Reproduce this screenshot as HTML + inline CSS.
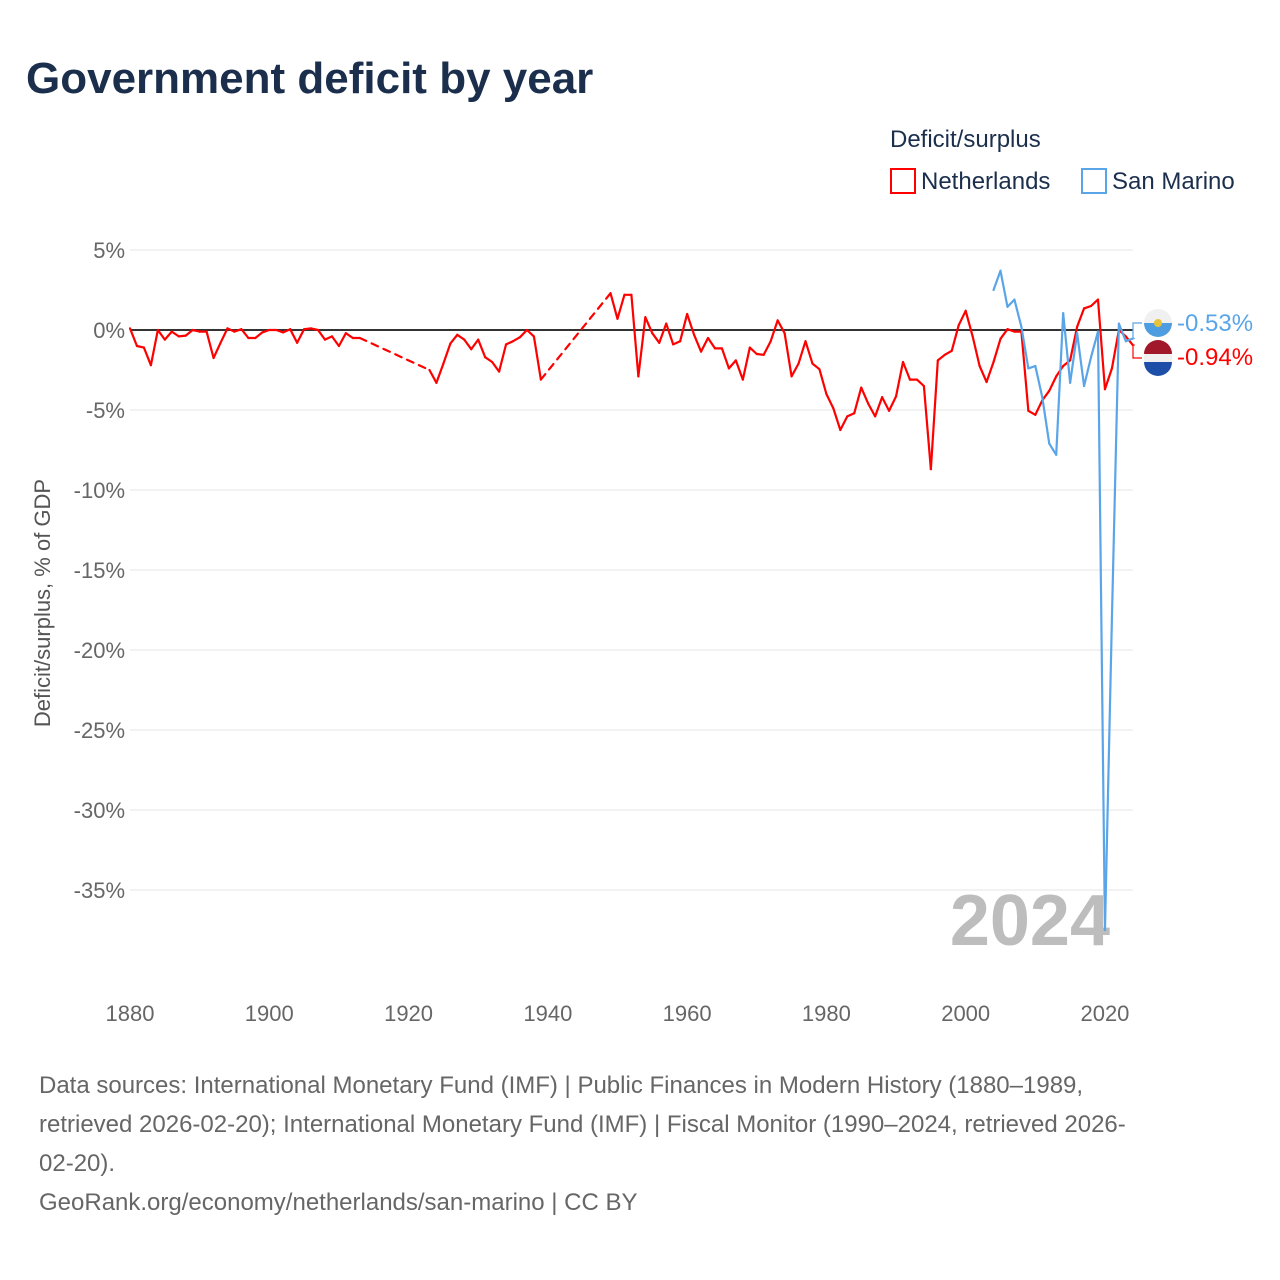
<!DOCTYPE html>
<html><head><meta charset="utf-8"><style>
body{margin:0;background:#fff;font-family:"Liberation Sans",sans-serif;}
#wrap{position:relative;width:1280px;height:1280px;overflow:hidden}
</style></head><body>
<div id="wrap">
<svg id="chart" width="1280" height="1280" style="position:absolute;left:0;top:0">
<text x="26" y="93" font-size="44" font-weight="bold" fill="#1b2f4d">Government deficit by year</text>
<text x="890" y="147" font-size="24" fill="#1b2f4d">Deficit/surplus</text>
<g><rect x="891" y="169" width="24" height="24" fill="none" stroke="#ff0000" stroke-width="2"/><text x="921" y="189" font-size="24" fill="#1b2f4d">Netherlands</text></g>
<g><rect x="1082" y="169" width="24" height="24" fill="none" stroke="#5aa5e8" stroke-width="2"/><text x="1112" y="189" font-size="24" fill="#1b2f4d">San Marino</text></g>
<text transform="translate(50,603) rotate(-90)" text-anchor="middle" font-size="22" fill="#555">Deficit/surplus, % of GDP</text>
<g id="grid"></g><g id="xt"></g>
<text x="1110" y="945" text-anchor="end" font-size="72" font-weight="bold" fill="#bdbdbd">2024</text>
<g id="series"></g>
<g><circle cx="1158" cy="323" r="14" fill="#f0f0f0"/><path d="M1144,323 a14,14 0 0,0 28,0 z" fill="#4d9de0"/><circle cx="1158" cy="323" r="4" fill="#e8c23a"/></g>
<g><circle cx="1158" cy="358" r="14" fill="#f0f0f0"/><path d="M1144,358 a14,14 0 0,1 28,0 z" transform="translate(0,-4)" fill="#a0182a"/><path d="M1144,358 a14,14 0 0,0 28,0 z" transform="translate(0,4)" fill="#1e4fa8"/></g>
<text x="1177" y="331" font-size="24" fill="#5aa5e8">-0.53%</text>
<text x="1177" y="365" font-size="24" fill="#ff0000">-0.94%</text>
<text font-size="24" fill="#666"><tspan x="39" y="1093">Data sources: International Monetary Fund (IMF) | Public Finances in Modern History (1880–1989,</tspan><tspan x="39" y="1132">retrieved 2026-02-20); International Monetary Fund (IMF) | Fiscal Monitor (1990–2024, retrieved 2026-</tspan><tspan x="39" y="1171">02-20).</tspan><tspan x="39" y="1210">GeoRank.org/economy/netherlands/san-marino | CC BY</tspan></text>
</svg>
</div>
<script>
const yTicks=[5,0,-5,-10,-15,-20,-25,-30,-35];
const xTicks=[1880,1900,1920,1940,1960,1980,2000,2020];
const nlYears=[1880,1881,1882,1883,1884,1885,1886,1887,1888,1889,1890,1891,1892,1893,1894,1895,1896,1897,1898,1899,1900,1901,1902,1903,1904,1905,1906,1907,1908,1909,1910,1911,1912,1913,1923,1924,1925,1926,1927,1928,1929,1930,1931,1932,1933,1934,1935,1936,1937,1938,1939,1949,1950,1951,1952,1953,1954,1955,1956,1957,1958,1959,1960,1961,1962,1963,1964,1965,1966,1967,1968,1969,1970,1971,1972,1973,1974,1975,1976,1977,1978,1979,1980,1981,1982,1983,1984,1985,1986,1987,1988,1989,1990,1991,1992,1993,1994,1995,1996,1997,1998,1999,2000,2001,2002,2003,2004,2005,2006,2007,2008,2009,2010,2011,2012,2013,2014,2015,2016,2017,2018,2019,2020,2021,2022,2023,2024];
const nlValues=[0.1,-1.0,-1.1,-2.2,0,-0.6,-0.1,-0.4,-0.35,0,-0.1,-0.1,-1.75,-0.8,0.1,-0.1,0.05,-0.5,-0.5,-0.15,0,0,-0.15,0.05,-0.8,0.05,0.1,0,-0.6,-0.4,-1.0,-0.2,-0.5,-0.5,-2.5,-3.3,-2.1,-0.85,-0.3,-0.6,-1.2,-0.6,-1.7,-2.0,-2.6,-0.9,-0.7,-0.45,0,-0.4,-3.1,2.3,0.7,2.2,2.2,-2.9,0.8,-0.2,-0.8,0.4,-0.9,-0.7,1.0,-0.3,-1.35,-0.5,-1.15,-1.15,-2.4,-1.9,-3.1,-1.1,-1.5,-1.55,-0.7,0.6,-0.2,-2.9,-2.1,-0.7,-2.1,-2.45,-4.0,-4.9,-6.25,-5.4,-5.2,-3.6,-4.6,-5.4,-4.2,-5.05,-4.15,-2.0,-3.1,-3.1,-3.5,-8.7,-1.9,-1.55,-1.3,0.3,1.2,-0.4,-2.25,-3.25,-2.0,-0.55,0.05,-0.1,-0.1,-5.05,-5.3,-4.4,-3.8,-2.9,-2.25,-1.9,0.2,1.35,1.5,1.9,-3.7,-2.4,0,-0.4,-0.94];
const smYears=[2004,2005,2006,2007,2008,2009,2010,2011,2012,2013,2014,2015,2016,2017,2018,2019,2020,2021,2022,2023,2024];
const smValues=[2.5,3.7,1.45,1.9,0.2,-2.4,-2.25,-4.2,-7.1,-7.8,1.05,-3.3,-0.2,-3.5,-1.7,-0.1,-37.5,-18,0.4,-0.7,-0.53];
const X=y=>130+(y-1880)*6.964, Y=v=>330-16*v;
const NS='http://www.w3.org/2000/svg';
function mk(t,a,p){const e=document.createElementNS(NS,t);for(const k in a)e.setAttribute(k,a[k]);p.appendChild(e);return e;}
const grid=document.getElementById('grid');
yTicks.forEach(t=>{
 const l=mk('line',{x1:130,x2:1133,y1:Y(t),y2:Y(t),stroke:t===0?'#333':'#e6e6e6','stroke-width':t===0?2:1},grid);
 
 
 const tx=mk('text',{x:125,y:Y(t)+8,'text-anchor':'end','font-size':22,fill:'#666'},grid);
 tx.textContent=t+'%';
 
 
});
const xt=document.getElementById('xt');
xTicks.forEach(t=>{
 const tx=mk('text',{x:X(t),y:1021,'text-anchor':'middle','font-size':22,fill:'#666'},xt);
 tx.textContent=t;
 
 
});
const ser=document.getElementById('series');
function draw(years,vals,color,name){
 for(let i=1;i<years.length;i++){
  const gap=years[i]-years[i-1]>1;
  const l=mk('line',{x1:X(years[i-1]),y1:Y(vals[i-1]),x2:X(years[i]),y2:Y(vals[i]),stroke:color,'stroke-width':2.2,'stroke-linecap':'round'},ser);
  if(gap)l.setAttribute('stroke-dasharray','7,6');
  
  
 }
}
draw(nlYears,nlValues,'#ff0000','netherlands-line');
draw(smYears,smValues,'#5aa5e8','san-marino-line');
const nEnd=Y(nlValues[nlValues.length-1]), sEnd=Y(smValues[smValues.length-1]);
const c1=mk('polyline',{points:`${X(2024)+2},${nEnd} 1133,${nEnd} 1133,358 1142,358`,fill:'none',stroke:'#ff0000','stroke-width':1.2},ser);


const c2=mk('polyline',{points:`${X(2024)+2},${sEnd} 1133,${sEnd} 1133,323 1142,323`,fill:'none',stroke:'#5aa5e8','stroke-width':1.2},ser);


</script>
</body></html>
